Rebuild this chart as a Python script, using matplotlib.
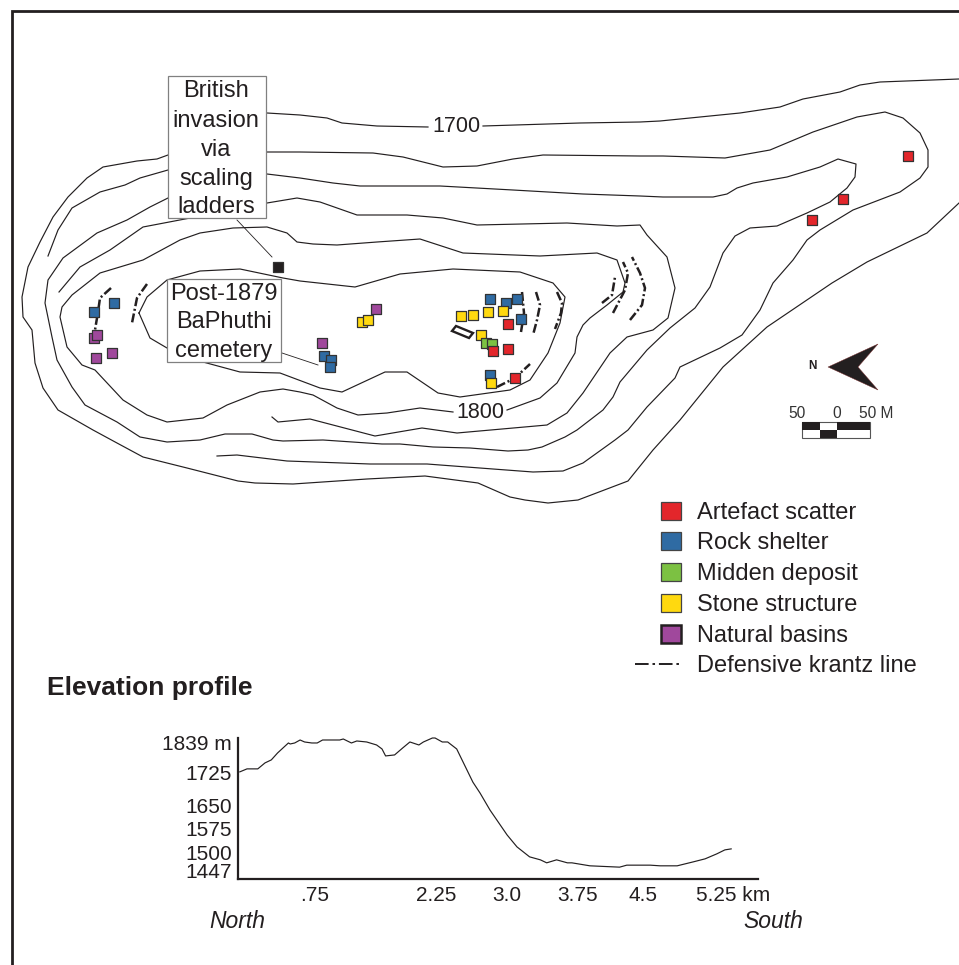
import matplotlib
matplotlib.use("Agg")
import matplotlib.pyplot as plt
from matplotlib.patches import Rectangle, Polygon

plt.rcParams['font.family'] = ['Liberation Sans', 'DejaVu Sans']

INK = '#231F20'

# contour lines, map position
contour_a_x = [168, 157, 137, 103, 87, 68, 53, 40, 28, 22, 23, 32, 35, 43, 58, 93, 117, 143, 187, 238, 255, 293, 367, 425, 478, 510, 525, 548, 578, 628, 653, 680, 723, 767, 832, 867, 927, 959]
contour_a_y = [155, 159, 161, 167, 178, 197, 217, 242, 267, 297, 317, 330, 363, 388, 410, 430, 443, 457, 468, 481, 483, 484, 479, 476, 483, 497, 500, 503, 500, 481, 450, 420, 367, 327, 283, 262, 233, 203]
contour_a2_x = [267, 300, 327, 342, 377, 428]
contour_a2_y = [113, 115, 118, 123, 126, 127]
contour_a3_x = [483, 580, 640, 660, 740, 780, 803, 840, 860, 880, 959]
contour_a3_y = [126, 123, 122, 121, 113, 107, 99, 92, 85, 82, 79]

contour_b_x = [48, 58, 72, 100, 125, 140, 168, 267, 300, 373, 403, 443, 477, 513, 543, 640, 663, 725, 770, 813, 857, 885, 903, 920, 928, 928, 920, 900, 853, 820, 807, 793, 773, 760, 742, 720, 680, 675, 647, 628, 615, 583, 563, 533, 493, 427, 370, 287, 237, 217]
contour_b_y = [256, 230, 208, 192, 185, 178, 170, 152, 152, 153, 157, 167, 166, 159, 155, 156, 156, 158, 150, 132, 117, 112, 118, 133, 150, 167, 178, 192, 210, 230, 240, 260, 283, 310, 335, 348, 367, 378, 407, 430, 440, 463, 471, 472, 469, 464, 464, 461, 455, 456]

contour_c_x = [267, 300, 333, 360, 440, 513, 583, 640, 663, 713, 727, 737, 753, 787, 820, 838, 856, 855, 847, 830, 807, 777, 750, 735, 723, 710, 695, 670, 647, 620, 613, 603, 577, 565, 542, 528, 508, 470, 433, 400, 382, 323, 283, 273, 252, 225, 200, 167, 140, 117, 85, 72, 57, 52, 45, 48, 63, 97, 127, 150, 168]
contour_c_y = [174, 178, 183, 186, 186, 190, 194, 196, 197, 197, 194, 188, 183, 177, 167, 159, 164, 177, 188, 202, 213, 226, 228, 236, 253, 287, 308, 328, 350, 382, 397, 410, 430, 437, 447, 450, 451, 448, 447, 444, 444, 440, 441, 440, 434, 434, 440, 442, 437, 422, 405, 387, 360, 337, 303, 280, 258, 233, 220, 207, 198]

contour_d_x = [59, 80, 110, 143, 185, 267, 297, 320, 357, 407, 443, 477, 567, 617, 640, 647, 667, 675, 668, 653, 627, 610, 583, 567, 547, 457, 422, 375, 310, 278, 272]
contour_d_y = [292, 267, 250, 227, 219, 203, 198, 202, 215, 215, 218, 225, 223, 226, 225, 235, 257, 288, 318, 330, 337, 353, 393, 413, 425, 433, 428, 436, 419, 422, 417]

# the 1800 m ring, open where its label sits
contour_e_x = [453, 420, 387, 358, 337, 313, 300, 283, 260, 227, 203, 167, 147, 123, 95, 82, 67, 60, 62, 72, 100, 143, 180, 200, 233, 267, 287, 297, 313, 337, 377, 420, 463, 540, 597, 617, 625, 623, 607, 590, 583, 577, 575, 557, 540, 507]
contour_e_y = [412, 408, 413, 415, 408, 395, 392, 389, 392, 405, 418, 422, 415, 400, 370, 365, 347, 317, 307, 295, 273, 260, 240, 233, 228, 227, 233, 242, 244, 245, 242, 239, 253, 256, 253, 260, 283, 292, 305, 318, 325, 337, 353, 383, 398, 410]

# innermost ring
contour_f_x = [139, 147, 167, 200, 240, 283, 300, 355, 400, 453, 520, 553, 565, 560, 548, 530, 510, 460, 438, 407, 385, 342, 320, 280, 240, 203, 167, 150, 139]
contour_f_y = [313, 297, 280, 271, 269, 278, 281, 287, 274, 269, 272, 283, 297, 323, 353, 380, 390, 397, 393, 372, 372, 392, 388, 373, 372, 362, 348, 338, 313]

# defensive krantz lines
krantz_lines = [
    ([111, 100, 98, 95], [288, 298, 312, 330]),
    ([147, 137, 132], [284, 298, 323]),
    ([522, 524, 521], [292, 313, 332]),
    ([536, 540, 537, 533], [292, 305, 320, 335]),
    ([557, 562, 561, 555], [292, 303, 313, 329]),
    ([497, 515, 530], [387, 378, 364]),
    ([602, 612, 615], [303, 295, 277]),
    ([613, 625, 628, 623], [313, 290, 273, 262]),
    ([630, 642, 645, 640, 632], [320, 305, 288, 273, 257]),
]

# sites
artefact_x = [508, 493, 508, 515, 908, 843, 812]
artefact_y = [324, 351, 349, 378, 156, 199, 220]
shelter_x = [94, 114, 324, 331, 330, 490, 506, 517, 521, 490]
shelter_y = [312, 303, 356, 360, 367, 299, 303, 299, 319, 375]
midden_x = [486, 492]
midden_y = [343, 344]
stone_x = [362, 368, 461, 473, 488, 503, 481, 491]
stone_y = [322, 320, 316, 315, 312, 311, 335, 383]
basin_x = [94, 97, 96, 112, 376, 322]
basin_y = [338, 335, 358, 353, 309, 343]

legend_labels = ['Artefact scatter', 'Rock shelter', 'Midden deposit', 'Stone structure', 'Natural basins']
legend_colors = ['#E3262B', '#2F6BA3', '#7CC142', '#FFD90F', '#A0489C']

# elevation profile
profile_km = [-0.08, 0, .12, .2, .27, .34, .46, .48, .53, .59, .64, .72, .78, .84, 1.03, 1.07, 1.16, 1.22, 1.33, 1.44, 1.5, 1.54, 1.64, 1.73, 1.81, 1.91, 1.96, 2.06, 2.09, 2.17, 2.23, 2.33, 2.51, 2.59, 2.7, 2.89, 3.0, 3.14, 3.26, 3.33, 3.44, 3.56, 3.61, 3.81, 4.14, 4.22, 4.48, 4.59, 4.78, 4.96, 5.09, 5.22, 5.31, 5.38]
profile_m = [1743, 1752, 1752, 1770, 1779, 1800, 1830, 1827, 1830, 1839, 1833, 1830, 1830, 1839, 1839, 1842, 1830, 1836, 1833, 1824, 1812, 1791, 1794, 1815, 1833, 1824, 1833, 1845, 1845, 1833, 1833, 1812, 1712, 1679, 1628, 1553, 1517, 1487, 1478, 1469, 1478, 1469, 1469, 1460, 1456, 1462, 1462, 1460, 1460, 1472, 1481, 1496, 1508, 1511]
elev_ticks = [1830, 1740, 1643, 1571, 1499, 1447]
elev_labels = ['1839 m', '1725', '1650', '1575', '1500', '1447']
dist_ticks = [0.756, 2.1, 2.89, 3.67, 4.4, 5.4]
dist_labels = ['.75', '2.25', '3.0', '3.75', '4.5', '5.25 km']

fig = plt.figure(figsize=(9.59, 9.65), dpi=100)

# the map uses picture coordinates
ax = fig.add_axes([0, 0, 1, 1])
ax.set_xlim(0, 959)
ax.set_ylim(965, 0)
ax.axis('off')

# frame is only closed on the top and left
ax.plot([959, 12, 12], [11, 11, 965], color=INK, lw=2, zorder=1, clip_on=False, solid_joinstyle='miter')

contours = [(contour_a_x, contour_a_y), (contour_a2_x, contour_a2_y), (contour_a3_x, contour_a3_y),
            (contour_b_x, contour_b_y), (contour_c_x, contour_c_y), (contour_d_x, contour_d_y),
            (contour_e_x, contour_e_y), (contour_f_x, contour_f_y)]
for cx, cy in contours:
    ax.plot(cx, cy, color=INK, lw=0.85, zorder=2, solid_joinstyle='round')

for kx, ky in krantz_lines:
    ax.plot(kx, ky, color=INK, lw=1.8, ls=(0, (3.6, 1.1, 0.8, 1.1)), zorder=3)

ax.text(456, 127, '1700', fontsize=15.5, color=INK, ha='center', va='center')
ax.text(480, 413, '1800', fontsize=15.5, color=INK, ha='center', va='center')

# callout boxes
ax.add_patch(Rectangle((168, 76), 98, 142, fc='white', ec='#808080', lw=0.9, zorder=4))
for ly, word in zip([91, 121, 150, 179, 207], ['British', 'invasion', 'via', 'scaling', 'ladders']):
    ax.text(216, ly, word, fontsize=17, color=INK, ha='center', va='center', zorder=5)
ax.add_patch(Rectangle((167, 279), 114, 83, fc='white', ec='#808080', lw=0.9, zorder=4))
for ly, word in zip([294, 322, 351], ['Post-1879', 'BaPhuthi', 'cemetery']):
    ax.text(224, ly, word, fontsize=17, color=INK, ha='center', va='center', zorder=5)
ax.plot([237, 272], [220, 257], color=INK, lw=0.6, zorder=3)
ax.plot([282, 318], [353, 365], color=INK, lw=0.6, zorder=3)

# site markers
def sites(xs, ys, color, size=50):
    ax.scatter(xs, ys, s=size, marker='s', c=color, edgecolors='#333333', linewidths=0.9, zorder=6)

sites(basin_x, basin_y, legend_colors[4])
sites(shelter_x, shelter_y, legend_colors[1])
sites(stone_x, stone_y, legend_colors[3])
sites(midden_x, midden_y, legend_colors[2])
sites(artefact_x, artefact_y, legend_colors[0])
sites([278], [267], INK)
ax.add_patch(Polygon([[452, 331], [456, 326], [473, 333], [469, 338]], fc='none', ec=INK, lw=1.7, zorder=6))

# north arrow and scale bar
ax.add_patch(Polygon([[828, 367], [878, 344], [858, 367], [878, 390]], fc=INK, ec='#7a2a2a', lw=0.3, zorder=6))
ax.text(812, 366, 'N', fontsize=8.5, fontweight='bold', color=INK, ha='center', va='center')
ax.add_patch(Rectangle((802, 422), 68, 16, fc='white', ec='#555555', lw=0.8, zorder=5))
ax.add_patch(Rectangle((802, 422), 17.5, 8, fc=INK, lw=0, zorder=6))
ax.add_patch(Rectangle((837, 422), 33, 8, fc=INK, lw=0, zorder=6))
ax.add_patch(Rectangle((819.5, 430), 17.5, 8, fc=INK, lw=0, zorder=6))
ax.text(797, 413, '50', fontsize=11.2, color='#333333', ha='center', va='center')
ax.text(837, 413, '0', fontsize=11.2, color='#333333', ha='center', va='center')
ax.text(876, 413, '50 M', fontsize=11.2, color='#333333', ha='center', va='center')

# legend
legend_y = [511, 541, 572, 603, 634]
for i, (lab, col) in enumerate(zip(legend_labels, legend_colors)):
    heavy = lab == 'Natural basins'
    ax.add_patch(Rectangle((661, legend_y[i] - 9), 20, 18, fc=col, ec=INK if heavy else '#444444',
                           lw=1.8 if heavy else 0.9, zorder=6))
    ax.text(697, legend_y[i] + 2, lab, fontsize=17, color=INK, ha='left', va='center')
ax.plot([635, 682], [664, 664], color=INK, lw=1.4, ls=(0, (7, 2, 1.3, 2)), zorder=6)
ax.text(697, 666, 'Defensive krantz line', fontsize=17, color=INK, ha='left', va='center')

# profile
ax.text(47, 688, 'Elevation profile', fontsize=19, fontweight='bold', color=INK, ha='left', va='center')
ax.text(237, 922, 'North', fontsize=16.5, style='italic', color=INK, ha='center', va='center')
ax.text(773, 922, 'South', fontsize=16.5, style='italic', color=INK, ha='center', va='center')

ax2 = fig.add_axes([238 / 959, 1 - 879 / 965, 520 / 959, 141 / 965])
ax2.patch.set_alpha(0)
ax2.plot(profile_km, profile_m, color=INK, lw=0.85, clip_on=False)
ax2.set_xlim(-0.1, 5.678)
ax2.set_ylim(1420.3, 1845)
ax2.set_xticks(dist_ticks, dist_labels, fontsize=15, color=INK)
ax2.set_yticks(elev_ticks, elev_labels, fontsize=15, color=INK)
ax2.tick_params(axis='both', length=0)
ax2.tick_params(axis='x', pad=5)
ax2.tick_params(axis='y', pad=4.5)
for side in ['top', 'right']:
    ax2.spines[side].set_visible(False)
for side in ['left', 'bottom']:
    ax2.spines[side].set_linewidth(1.6)
    ax2.spines[side].set_color(INK)

fig.savefig('out.png', dpi=100)
